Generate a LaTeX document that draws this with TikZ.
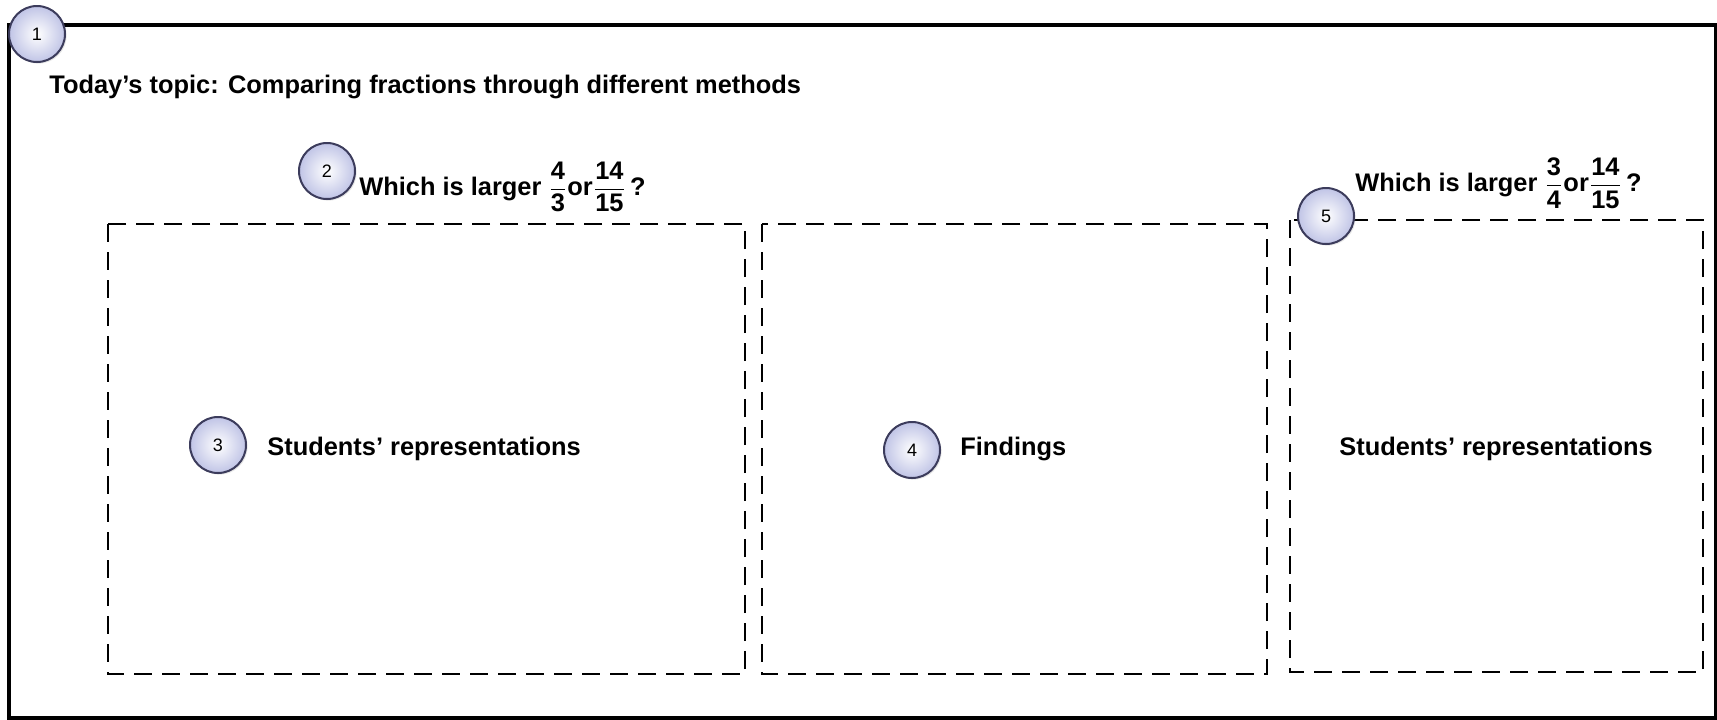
\documentclass[tikz,border=0pt]{standalone}
\usepackage{amsmath}
\usepackage{fontspec}
\setmainfont{Liberation Sans}
\usetikzlibrary{shadows}

\definecolor{ballfill}{RGB}{192,196,230}
\definecolor{balledge}{RGB}{60,60,92}

\begin{document}
\begin{tikzpicture}[x=0.5pt,y=-0.5pt,
  every node/.style={inner sep=0},
  num/.style={draw=balledge,circle,line width=1pt,minimum size=28pt,
    inner color=white,outer color=ballfill,
    font=\fontsize{9}{9}\selectfont,
    drop shadow={opacity=.2,shadow xshift=.8pt,shadow yshift=-.8pt}},
  lbl/.style={font=\fontsize{12.7}{15}\selectfont\bfseries},
  sheet/.style={dash pattern=on 9pt off 5pt,line width=1pt}]
\useasboundingbox (0,0) rectangle (1717,719);

% outer frame and the three boards
\draw[line width=2pt] (9,25) rectangle (1716,718);
\draw[sheet] (108,224) rectangle (745,674);
\draw[sheet] (762,224) rectangle (1267,674);
\draw[sheet] (1290,220) rectangle (1703,672);

\node[lbl,anchor=west] (topic) at (49,87)
  {Today's topic: Comparing fractions through different methods};

\node[lbl,anchor=west] (q1) at (359,187)
  {Which is larger $\dfrac{\text{4}}{\text{3}}$or$\dfrac{\text{14}}{\text{15}}$\,?};
\node[lbl,anchor=west] (q2) at (1355,183)
  {Which is larger $\dfrac{\text{3}}{\text{4}}$or$\dfrac{\text{14}}{\text{15}}$\,?};

\node[lbl,anchor=west] (rep1) at (267,449) {Students' representations};
\node[lbl,anchor=west] (find) at (960,449) {Findings};
\node[lbl] (rep2) at (1496,449) {Students' representations};

% numbered balls
\node[num] (c1) at (37,34) {1};
\node[num] (c2) at (327,171) {2};
\node[num] (c3) at (218,445) {3};
\node[num] (c4) at (912,450) {4};
\node[num] (c5) at (1326,216) {5};
\end{tikzpicture}
\end{document}
